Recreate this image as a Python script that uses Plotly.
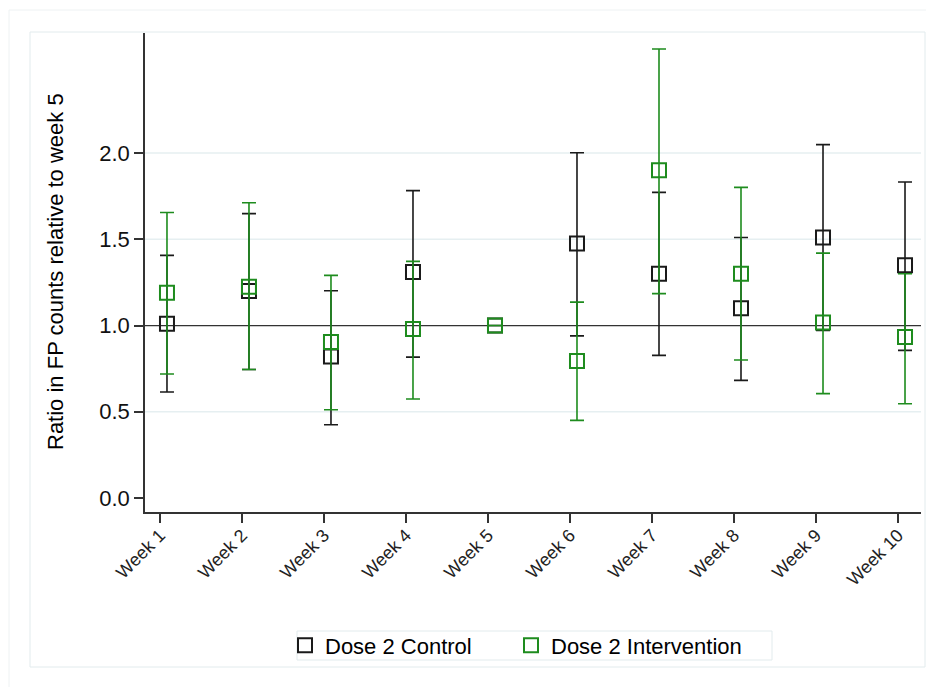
import plotly.graph_objects as go

weeks = ["Week 1", "Week 2", "Week 3", "Week 4", "Week 5",
         "Week 6", "Week 7", "Week 8", "Week 9", "Week 10"]

control = [1.01, 1.20, 0.82, 1.31, 1.00, 1.475, 1.30, 1.10, 1.51, 1.35]
control_lo = [0.615, 0.745, 0.425, 0.817, None, 0.94, 0.827, 0.682, 0.972, 0.856]
control_hi = [1.407, 1.649, 1.202, 1.782, None, 2.002, 1.772, 1.51, 2.049, 1.832]

interv = [1.19, 1.225, 0.904, 0.98, 1.00, 0.794, 1.90, 1.30, 1.017, 0.933]
interv_lo = [0.719, 0.745, 0.512, 0.574, None, 0.45, 1.185, 0.80, 0.605, 0.547]
interv_hi = [1.655, 1.712, 1.291, 1.372, None, 1.136, 2.603, 1.801, 1.42, 1.30]

y_ticks = [0.0, 0.5, 1.0, 1.5, 2.0]
grid_vals = [0.5, 1.5, 2.0]
ref_val = 1.0

FONT = "Liberation Sans, Arial, Helvetica, sans-serif"
BLACK = "#1a1a1a"
GREEN = "#1e8c1e"
GRID = "#e6eff1"
FRAME = "#e2ebed"

tick_pos = list(range(1, len(weeks) + 1))
offset = 0.085
xs = [p + offset for p in tick_pos]


def errs(v, lo, hi):
    up = [(h - c) if h is not None else None for c, h in zip(v, hi)]
    dn = [(c - l) if l is not None else None for c, l in zip(v, lo)]
    return up, dn


c_up, c_dn = errs(control, control_lo, control_hi)
i_up, i_dn = errs(interv, interv_lo, interv_hi)

fig = go.Figure()
fig.add_trace(go.Scatter(
    x=xs, y=control, mode="markers", name="Dose 2 Control", legend="legend",
    marker=dict(symbol="square-open", size=14, color=BLACK, line=dict(width=2, color=BLACK)),
    error_y=dict(type="data", array=c_up, arrayminus=c_dn, color=BLACK,
                 thickness=1.6, width=7, symmetric=False),
))
fig.add_trace(go.Scatter(
    x=xs, y=interv, mode="markers", name="Dose 2 Intervention", legend="legend2",
    marker=dict(symbol="square-open", size=14, color=GREEN, line=dict(width=2, color=GREEN)),
    error_y=dict(type="data", array=i_up, arrayminus=i_dn, color=GREEN,
                 thickness=1.6, width=7, symmetric=False),
))

# page body has an 8px margin: work in page pixels and shift
PAGE_OFF = 8
PW, PH = 934, 687
W, H = PW - PAGE_OFF, PH - PAGE_OFF
plot_left, plot_right, plot_top, plot_bottom = 145, 921, 33, 512  # page pixels
L = plot_left - PAGE_OFF
T = plot_top - PAGE_OFF
R = W - (plot_right - PAGE_OFF)
B = H - (plot_bottom - PAGE_OFF)
pw, ph = plot_right - plot_left, plot_bottom - plot_top


def px(xp):
    return (xp - plot_left) / pw


def py(yp):
    return (plot_bottom - yp) / ph


shapes = []
for g in grid_vals:
    shapes.append(dict(type="line", xref="paper", yref="y", x0=0, x1=1, y0=g, y1=g,
                       line=dict(color=GRID, width=1.5), layer="below"))
shapes.append(dict(type="line", xref="paper", yref="y", x0=0, x1=1, y0=ref_val, y1=ref_val,
                   line=dict(color="#333333", width=1.3), layer="below"))
# inner frame
shapes.append(dict(type="rect", xref="paper", yref="paper", x0=px(30), x1=px(925),
                   y0=py(667), y1=py(32), line=dict(color=FRAME, width=1), layer="below"))
# outer frame
shapes.append(dict(type="rect", xref="paper", yref="paper", x0=px(9), x1=px(960),
                   y0=py(720), y1=py(10), line=dict(color="#eef2f3", width=1), layer="below"))
# legend box
shapes.append(dict(type="rect", xref="paper", yref="paper", x0=px(297), x1=px(772),
                   y0=py(660), y1=py(631), line=dict(color=FRAME, width=1), layer="below"))

leg_common = dict(orientation="h", xanchor="left", yanchor="middle", y=py(645.5),
                  font=dict(size=22, family=FONT, color="black"),
                  bgcolor="rgba(0,0,0,0)", borderwidth=0)

fig.update_layout(
    width=W, height=H,
    margin=dict(l=L, r=R, t=T, b=B),
    paper_bgcolor="white", plot_bgcolor="white",
    font=dict(family=FONT, color="black"),
    shapes=shapes,
    showlegend=True,
    legend=dict(x=px(285), **leg_common),
    legend2=dict(x=px(511), **leg_common),
    xaxis=dict(range=[0.817, 10.28], tickmode="array", tickvals=tick_pos, ticktext=weeks,
               tickangle=-45, tickfont=dict(size=18, family=FONT, color="#222"),
               ticks="outside", ticklen=9, tickwidth=1.5, tickcolor="#333",
               ticklabelstandoff=-5,
               showline=True, linecolor="#333", linewidth=1.5, showgrid=False, zeroline=False),
    yaxis=dict(range=[-0.081, 2.696], tickmode="array", tickvals=y_ticks,
               ticktext=[f"{v:.1f}" for v in y_ticks],
               tickfont=dict(size=22, family=FONT, color="#111"),
               ticks="outside", ticklen=9, tickwidth=1.5, tickcolor="#333",
               ticklabelstandoff=0,
               showline=True, linecolor="#333", linewidth=1.5, showgrid=False, zeroline=False),
    annotations=[dict(text="Ratio in FP counts relative to week 5", xref="paper", yref="paper",
                      x=px(55), y=py(272), xanchor="center", yanchor="middle", textangle=-90,
                      showarrow=False, font=dict(size=22, family=FONT, color="black"))],
)

fig.write_html("out.html")
